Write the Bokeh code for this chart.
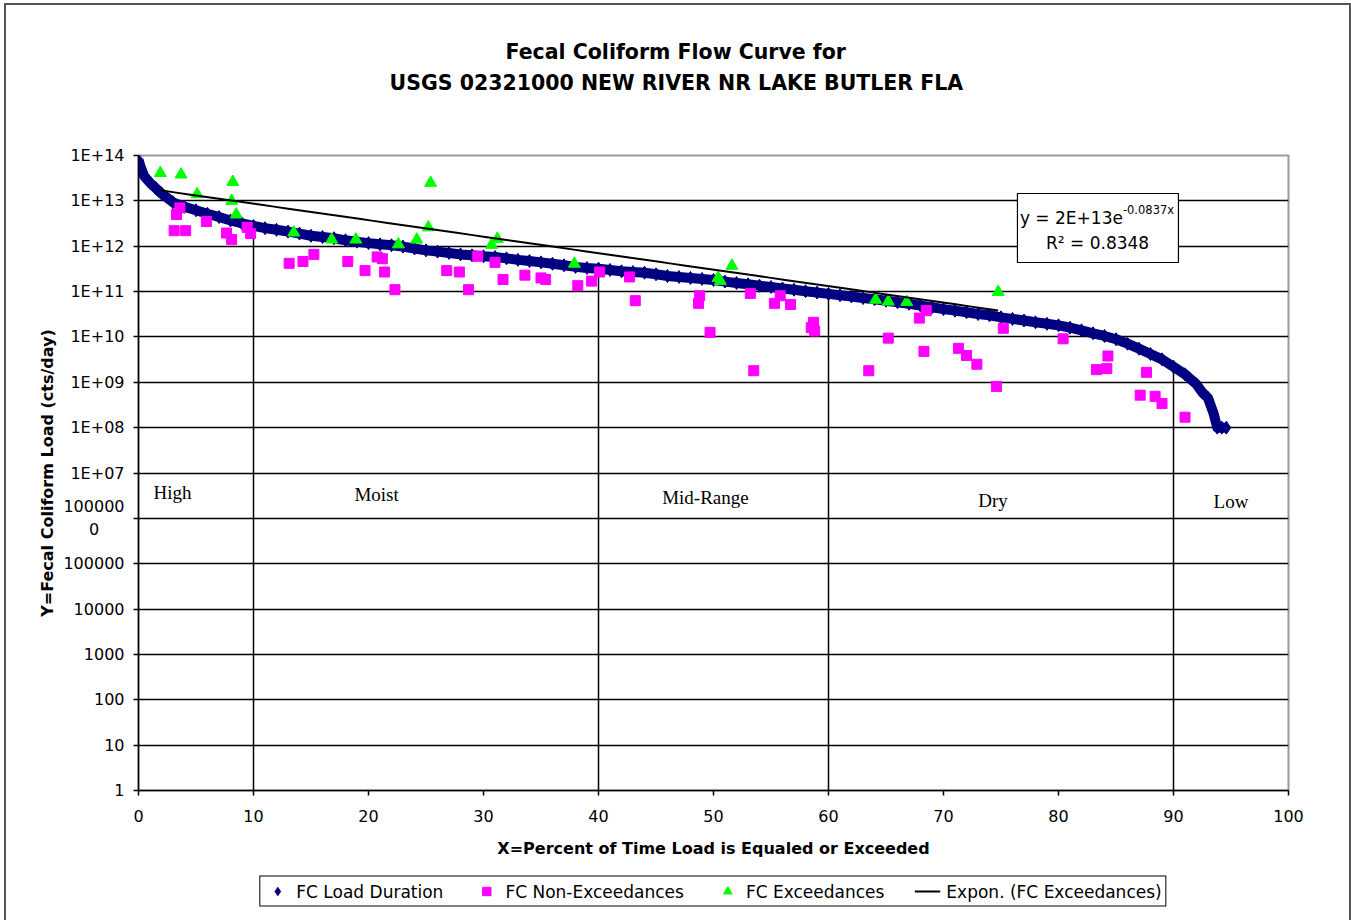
import numpy as np
from bokeh.plotting import figure
from bokeh.layouts import column
from bokeh.models import (ColumnDataSource, FixedTicker, Legend, LegendItem,
                          BoxAnnotation, Label, Range1d, Title)
from bokeh.core.properties import value
from bokeh.embed import file_html
from bokeh.resources import INLINE

# ---- FC load duration curve (percent of time exceeded, load cts/day) ----
duration_pct = [0, 0.2, 0.5, 1, 1.5, 2] + list(range(3, 93)) + [92.5, 93, 93.5, 93.8, 94.2, 94.6]
duration_load = [
    8.0e13, 5.5e13, 3.5e13, 2.5e13, 1.9e13, 1.45e13,
    9.3e12, 7.4e12, 6.2e12, 5.2e12, 4.4e12, 3.7e12, 3.2e12, 2.8e12,          # 3-10
    2.5e12, 2.3e12, 2.1e12, 1.9e12, 1.7e12, 1.6e12, 1.5e12, 1.35e12,         # 11-18
    1.26e12, 1.17e12, 1.1e12, 1.05e12, 9.8e11, 8.9e11, 8.1e11, 7.6e11,       # 19-26
    7.1e11, 6.6e11, 6.3e11, 6.0e11, 5.8e11, 5.4e11, 5.0e11, 4.7e11,          # 27-34
    4.4e11, 4.1e11, 3.8e11, 3.5e11, 3.3e11, 3.2e11, 3.0e11, 2.8e11,          # 35-42
    2.7e11, 2.6e11, 2.4e11, 2.2e11, 2.1e11, 2.0e11, 1.9e11, 1.8e11,          # 43-50
    1.66e11, 1.55e11, 1.45e11, 1.35e11, 1.26e11, 1.17e11, 1.1e11, 1.02e11,   # 51-58
    9.5e10, 8.9e10, 8.3e10, 7.8e10, 7.2e10, 6.8e10, 6.3e10, 5.8e10,          # 59-66
    5.4e10, 4.9e10, 4.5e10, 4.1e10, 3.8e10, 3.5e10, 3.2e10, 3.0e10,          # 67-74
    2.7e10, 2.5e10, 2.3e10, 2.1e10, 1.95e10, 1.8e10, 1.6e10, 1.4e10,         # 75-82
    1.2e10, 1.05e10, 8.9e9, 7.1e9, 5.5e9, 4.2e9, 3.2e9, 2.2e9,               # 83-90
    1.5e9, 9.0e8,                                                            # 91-92
    6.0e8, 4.5e8, 2.0e8, 1.0e8, 1.0e8, 1.0e8,
]

# ---- FC samples below the target load ----
nonexc_pct = [3.6, 3.3, 3.1, 4.1, 5.9, 7.65, 8.1, 9.45, 9.75, 13.1, 14.3, 15.25,
              18.2, 19.7, 20.75, 21.2, 21.4, 22.3, 26.8, 27.9, 28.7, 29.5, 31.0,
              31.7, 33.6, 35.0, 35.4, 38.2, 39.4, 40.1, 42.7, 43.2, 48.8, 48.7,
              49.7, 53.2, 53.5, 55.3, 55.8, 56.7, 58.5, 58.7, 58.8, 63.5, 65.2,
              67.9, 68.3, 68.5, 71.3, 72.0, 72.9, 74.6, 75.2, 80.4, 83.3, 84.2,
              84.3, 87.1, 87.65, 88.4, 89.0, 91.0]
nonexc_load = [7.0e12, 5.0e12, 2.2e12, 2.2e12, 3.5e12, 1.95e12, 1.4e12, 2.6e12,
               1.9e12, 4.2e11, 4.6e11, 6.6e11, 4.6e11, 2.9e11, 5.8e11, 5.3e11,
               2.7e11, 1.1e11, 2.9e11, 2.7e11, 1.1e11, 6.0e11, 4.4e11, 1.85e11,
               2.3e11, 2.0e11, 1.85e11, 1.35e11, 1.7e11, 2.7e11, 2.1e11, 6.3e10,
               8.1e10, 5.5e10, 1.26e10, 9.1e10, 1.8e9, 5.5e10, 8.1e10, 5.2e10,
               1.6e10, 2.1e10, 1.35e10, 1.8e9, 9.4e9, 2.6e10, 4.8e9, 3.8e10,
               5.6e9, 3.9e9, 2.5e9, 8.1e8, 1.55e10, 9.1e9, 1.9e9, 2.0e9, 3.8e9,
               5.2e8, 1.66e9, 4.9e8, 3.4e8, 1.7e8]

# ---- FC samples above the target load ----
exc_pct = [1.9, 3.7, 5.1, 8.1, 8.2, 8.5, 13.5, 16.8, 18.9, 22.6, 24.2, 25.2, 25.4,
           30.7, 31.2, 37.9, 50.4, 50.6, 51.6, 64.1, 65.2, 66.8, 74.75]
exc_load = [4.1e13, 3.8e13, 1.4e13, 1.0e13, 2.6e13, 5.0e12, 2.0e12, 1.4e12, 1.4e12,
            1.1e12, 1.4e12, 2.6e12, 2.5e13, 1.07e12, 1.45e12, 4.1e11, 2.0e11,
            1.7e11, 3.7e11, 6.6e10, 6.0e10, 5.9e10, 9.8e10]

# ---- exponential trendline of the exceedances ----
fit_a = 2e13
fit_b = -0.0837
fit_r2 = 0.8348

# ---- flow zones ----
zone_names = ["High", "Moist", "Mid-Range", "Dry", "Low"]
zone_bounds = [10, 40, 60, 90]

x_ticks = list(range(0, 101, 10))
y_ticks = [10.0 ** k for k in range(15)]
# 1000000 wraps onto two lines; the second line is padded so it sits centred
y_tick_labels = ["1", "10", "100", "1000", "10000", "100000",
                 "100000\n0\u2007\u2007\u2008",
                 "1E+07", "1E+08", "1E+09", "1E+10", "1E+11", "1E+12", "1E+13", "1E+14"]

title_lines = ["Fecal Coliform Flow Curve for",
               "USGS 02321000 NEW RIVER NR LAKE BUTLER FLA"]
legend_labels = ["FC Load Duration", "FC Non-Exceedances", "FC Exceedances",
                 "Expon. (FC Exceedances)"]

SANS = "DejaVu Sans"
NAVY, MAGENTA, GREEN = "#000080", "#FF00FF", "#00FF00"

p = figure(frame_width=1150, frame_height=635,
           x_range=Range1d(0, 100), y_range=Range1d(1, 1e14), y_axis_type="log",
           output_backend="svg", toolbar_location=None,
           min_border_left=132, min_border_right=61, min_border_top=150,
           min_border_bottom=72, background_fill_color="white",
           border_fill_color="white", outline_line_color="#9a9a9a",
           outline_line_width=2)

# title block: outer line is the plot title; a blank spacer keeps the
# second line clear of the frame
title_style = dict(align="left", text_font=SANS, text_font_size="20.5px",
                   text_font_style="bold", text_color="black")
p.title.text = title_lines[0]
p.title.offset = 367
p.title.standoff = 3
for k, v in title_style.items():
    setattr(p.title, k, v)
p.add_layout(Title(text=" ", standoff=32, **title_style), "above")
p.add_layout(Title(text=title_lines[1], offset=251, standoff=6, **title_style), "above")

# axes
p.xaxis.ticker = FixedTicker(ticks=x_ticks, minor_ticks=[])
p.yaxis.ticker = FixedTicker(ticks=y_ticks, minor_ticks=[])
p.yaxis.major_label_overrides = {t: lab for t, lab in zip(y_ticks, y_tick_labels)}
for ax in (p.xaxis, p.yaxis):
    ax.axis_line_color = "black"
    ax.axis_line_width = 1.5
    ax.major_tick_line_color = "black"
    ax.major_tick_line_width = 1.5
    ax.major_tick_in = 0
    ax.major_tick_out = 5
    ax.minor_tick_line_color = None
    ax.major_label_text_font = SANS
    ax.major_label_text_font_size = "16px"
    ax.major_label_text_color = "black"
    ax.axis_label_text_font = SANS
    ax.axis_label_text_font_size = "16px"
    ax.axis_label_text_font_style = "bold"
    ax.axis_label_text_color = "black"
p.xaxis.axis_label = "X=Percent of Time Load is Equaled or Exceeded"
p.yaxis.axis_label = "Y=Fecal Coliform Load (cts/day)"
p.xaxis.major_label_standoff = 14
p.xaxis.axis_label_standoff = 14
p.yaxis.major_label_standoff = 9
p.yaxis.axis_label_standoff = 3

p.xgrid.visible = False
p.ygrid.ticker = FixedTicker(ticks=y_ticks[1:-1], minor_ticks=[])
p.ygrid.grid_line_color = "black"
p.ygrid.grid_line_width = 1.5

# zone boundaries, from the duration curve down to the axis
bound_load = [duration_load[duration_pct.index(b)] for b in zone_bounds]
p.segment(x0=zone_bounds, x1=zone_bounds, y0=bound_load, y1=[1] * len(zone_bounds),
          line_color="black", line_width=1.5)

# zone names
zone_src = ColumnDataSource(dict(
    x=[2.96, 20.7, 49.3, 74.3, 95.0],
    y=[10 ** 6.57, 10 ** 6.53, 10 ** 6.46, 10 ** 6.39, 10 ** 6.37],
    text=zone_names))
p.text(x="x", y="y", text="text", source=zone_src, text_align="center",
       text_baseline="middle", text_font=value("Liberation Serif"),
       text_font_size="19px", text_color="black")

dia_style = dict(marker="diamond", size=13, fill_color=NAVY, line_color=NAVY)
sq_style = dict(marker="square", size=10, fill_color=MAGENTA, line_color=MAGENTA)
tri_style = dict(marker="triangle", size=12, fill_color=GREEN, line_color=GREEN)
fit_style = dict(line_color="black", line_width=2)

fit_x = np.linspace(min(exc_pct), max(exc_pct), 60)
fit_y = fit_a * np.exp(fit_b * fit_x)


def draw_series(fig):
    """Duration band, samples and trendline; returns the legend renderers."""
    fig.line(duration_pct, duration_load, line_color=NAVY, line_width=10,
             line_join="round")
    r1 = fig.scatter(duration_pct, duration_load, **dia_style)
    r2 = fig.scatter(nonexc_pct, nonexc_load, **sq_style)
    r3 = fig.scatter(exc_pct, exc_load, **tri_style)
    r4 = fig.line(fit_x, fit_y, **fit_style)
    return [r1, r2, r3, r4]


draw_series(p)

# trendline equation box
p.add_layout(BoxAnnotation(left=76.43, right=90.43, top=10 ** 13.162, bottom=10 ** 11.641,
                           fill_color="white", fill_alpha=1.0, line_color="black",
                           line_width=1.2, line_alpha=1.0))
p.add_layout(Label(x=85.6, y=10 ** 12.63, text=f"y = {fit_a:.0E}e",
                   text_align="right", text_baseline="middle", text_font=SANS,
                   text_font_size="17px", text_color="black"))
p.add_layout(Label(x=85.6, y=10 ** 12.80, text=f"{fit_b}x", text_align="left",
                   text_baseline="middle", text_font=SANS, text_font_size="11.5px",
                   text_color="black"))
p.add_layout(Label(x=83.4, y=10 ** 12.07, text=f"R\u00b2 = {fit_r2}", text_align="center",
                   text_baseline="middle", text_font=SANS, text_font_size="17px",
                   text_color="black"))

# legend strip under the chart, sharing the chart's horizontal frame;
# its value ranges keep the series themselves out of view
lf = figure(frame_width=1150, frame_height=58, x_range=(-2, -1), y_range=(-2, -1),
            output_backend="svg", toolbar_location=None,
            x_axis_location=None, y_axis_location=None,
            min_border_left=132, min_border_right=61, min_border_top=0,
            min_border_bottom=0, outline_line_color=None,
            background_fill_color="white", border_fill_color="white")
lf.grid.visible = False
keys = draw_series(lf)
legend = Legend(items=[LegendItem(label=lab, renderers=[r]) for lab, r in
                       zip(legend_labels, keys)],
                orientation="horizontal", location="center",
                border_line_color="black", border_line_width=1.5, border_line_alpha=1,
                background_fill_color="white", background_fill_alpha=1,
                label_text_font=SANS, label_text_font_size="17px",
                label_text_color="black", label_height=20,
                glyph_width=26, glyph_height=21, label_standoff=6, spacing=30,
                padding=4, margin=0)
lf.add_layout(legend, "center")

page = column(p, lf, spacing=0,
              styles={"margin-left": "4px", "margin-top": "3px",
                      "border-left": "2px solid #555555",
                      "border-top": "2px solid #555555",
                      "border-right": "2px solid #555555"})

html = file_html(page, INLINE)
open("out.html", "w").write(html)
